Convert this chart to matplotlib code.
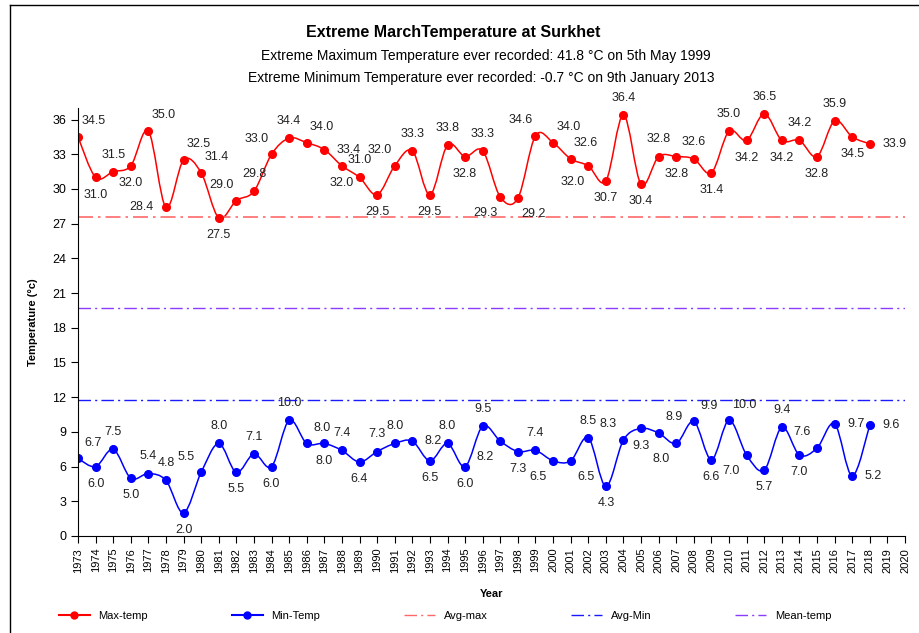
import matplotlib.pyplot as plt
from matplotlib.path import Path
from matplotlib.patches import PathPatch
from matplotlib.lines import Line2D

plt.rcParams['font.family'] = ['Liberation Sans', 'DejaVu Sans']

# --- data ---
years = list(range(1973, 2019))
max_temp = [34.5, 31.0, 31.5, 32.0, 35.0, 28.4, 32.5, 31.4, 27.5, 29.0,
            29.8, 33.0, 34.4, 34.0, 33.4, 32.0, 31.0, 29.5, 32.0, 33.3,
            29.5, 33.8, 32.8, 33.3, 29.3, 29.2, 34.6, 34.0, 32.6, 32.0,
            30.7, 36.4, 30.4, 32.8, 32.8, 32.6, 31.4, 35.0, 34.2, 36.5,
            34.2, 34.2, 32.8, 35.9, 34.5, 33.9]
min_temp = [6.7, 6.0, 7.5, 5.0, 5.4, 4.8, 2.0, 5.5, 8.0, 5.5,
            7.1, 6.0, 10.0, 8.0, 8.0, 7.4, 6.4, 7.3, 8.0, 8.2,
            6.5, 8.0, 6.0, 9.5, 8.2, 7.3, 7.4, 6.5, 6.5, 8.5,
            4.3, 8.3, 9.3, 8.9, 8.0, 9.9, 6.6, 10.0, 7.0, 5.7,
            9.4, 7.0, 7.6, 9.7, 5.2, 9.6]
avg_max = 27.6
mean_temp = 19.7
avg_min = 11.8
year_ticks = list(range(1973, 2021))

# where each data label sits (a=above, b=below, r/l=right/left)
max_pos = ['ar', 'b', 'a', 'b', 'ar', 'l', 'ar', 'ar', 'b', 'al',
           'a', 'al', 'a', 'ar', 'r', 'b', 'a', 'b', 'al', 'a',
           'b', 'a', 'b', 'a', 'bl', 'br', 'al', 'ar', 'ar', 'bl',
           'b', 'a', 'b', 'a', 'b', 'a', 'b', 'a', 'b', 'a',
           'b', 'a', 'b', 'a', 'b', 'r']
min_pos = ['ar', 'b', 'a', 'b', 'a', 'a', 'b', 'al', 'a', 'b',
           'a', 'b', 'a', 'ar', 'b', 'a', 'b', 'a', 'a', 'r',
           'b', 'a', 'b', 'a', 'bl', 'b', 'a', 'bl', 'br', 'a',
           'b', 'al', 'b', 'ar', 'bl', 'ar', 'b', 'ar', 'bl', 'b',
           'a', 'b', 'al', 'r', 'r', 'r']

OFFSETS = {
    'a': ((0, 8), 'center', 'bottom'),
    'b': ((0, -8), 'center', 'top'),
    'ar': ((11, 7), 'center', 'bottom'),
    'al': ((-11, 7), 'center', 'bottom'),
    'br': ((11, -7), 'center', 'top'),
    'bl': ((-11, -7), 'center', 'top'),
    'r': ((9, 0), 'left', 'center'),
    'l': ((-9, 0), 'right', 'center'),
}


def smooth_path(x, y):
    # Excel style smoothed line: cubic bezier through the points
    verts = [(x[0], y[0])]
    codes = [Path.MOVETO]
    n = len(x)
    for i in range(n - 1):
        xa, ya = (x[i - 1], y[i - 1]) if i > 0 else (x[i], y[i])
        xb, yb = (x[i + 2], y[i + 2]) if i + 2 < n else (x[i + 1], y[i + 1])
        c1 = (x[i] + (x[i + 1] - xa) / 6, y[i] + (y[i + 1] - ya) / 6)
        c2 = (x[i + 1] - (xb - x[i]) / 6, y[i + 1] - (yb - y[i]) / 6)
        verts += [c1, c2, (x[i + 1], y[i + 1])]
        codes += [Path.CURVE4] * 3
    return Path(verts, codes)


def put_labels(ax, x, y, pos):
    for xi, yi, p in zip(x, y, pos):
        off, ha, va = OFFSETS[p]
        ax.annotate(f'{yi:.1f}', (xi, yi), xytext=off,
                    textcoords='offset points', ha=ha, va=va, fontsize=9,
                    color='#222222')


fig = plt.figure(figsize=(9.19, 6.33), dpi=100)
ax = fig.add_axes([78 / 919, 1 - 536 / 633, (905 - 78) / 919, (536 - 108) / 633])

dd = (0, (9, 3, 1.5, 3))
ax.axhline(avg_max, color='#ff6868', ls=dd, lw=1.2)
ax.axhline(mean_temp, color='#8a3cff', ls=dd, lw=1.0)
ax.axhline(avg_min, color='#1a1aff', ls=dd, lw=1.0)

ax.add_patch(PathPatch(smooth_path(years, max_temp), fc='none', ec='red', lw=1.1))
ax.plot(years, max_temp, 'o', color='red', ms=5.5)
ax.add_patch(PathPatch(smooth_path(years, min_temp), fc='none', ec='blue', lw=1.1))
ax.plot(years, min_temp, 'o', color='blue', ms=5.5)

put_labels(ax, years, max_temp, max_pos)
put_labels(ax, years, min_temp, min_pos)

ax.set_xlim(1973, 2020)
ax.set_ylim(0, 37)
ax.set_xticks(year_ticks)
ax.set_xticklabels([str(y) for y in year_ticks], rotation=90, fontsize=8)
ax.set_yticks(range(0, 37, 3))
ax.tick_params(axis='y', labelsize=9, length=5)
ax.tick_params(axis='x', length=5)
ax.spines['top'].set_visible(False)
ax.spines['right'].set_visible(False)
ax.set_ylabel('Temperature (°c)', fontsize=8, fontweight='bold', labelpad=10)
ax.set_xlabel('Year', fontsize=8, fontweight='bold', labelpad=12)

fig.text(453 / 919, 1 - 32 / 633, 'Extreme MarchTemperature at Surkhet',
         ha='center', va='center', fontsize=11.5, fontweight='bold')
fig.text(486 / 919, 1 - 56 / 633,
         'Extreme Maximum Temperature ever recorded: 41.8 °C on 5th May 1999',
         ha='center', va='center', fontsize=10)
fig.text(481 / 919, 1 - 78 / 633,
         'Extreme Minimum Temperature ever recorded: -0.7 °C on 9th January 2013',
         ha='center', va='center', fontsize=10)

# chart frame
fig.add_artist(Line2D([10 / 919, 10 / 919], [0, 1 - 5 / 633], color='black', lw=1,
                      transform=fig.transFigure))
fig.add_artist(Line2D([10 / 919, 1], [1 - 5 / 633, 1 - 5 / 633], color='black', lw=1,
                      transform=fig.transFigure))

handles = [
    Line2D([], [], color='red', marker='o', ms=5),
    Line2D([], [], color='blue', marker='o', ms=5),
    Line2D([], [], color='#ff6868', ls=dd, lw=1),
    Line2D([], [], color='#1a1aff', ls=dd, lw=1),
    Line2D([], [], color='#8a3cff', ls=dd, lw=1),
]
fig.legend(handles, ['Max-temp', 'Min-Temp', 'Avg-max', 'Avg-Min', 'Mean-temp'],
           ncol=5, loc='center', bbox_to_anchor=(445 / 919, 1 - 616 / 633),
           frameon=False, fontsize=8, columnspacing=7.5, handlelength=2.8)

fig.savefig('out.png', dpi=100)
